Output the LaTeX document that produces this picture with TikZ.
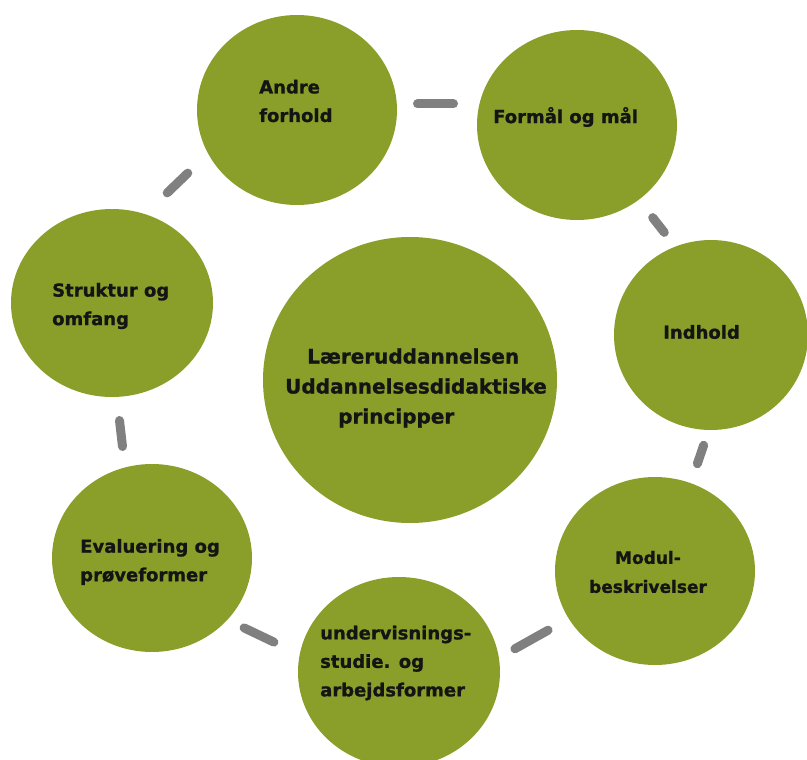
\documentclass[tikz,border=0pt]{standalone}
\usepackage{fontspec}
\setmainfont{DejaVu Sans}[BoldFeatures={FakeBold=1}]
\usetikzlibrary{shapes.geometric}
\definecolor{leaf}{RGB}{138,158,42}
\definecolor{linkgray}{RGB}{128,128,128}
\definecolor{ink}{RGB}{20,20,20}
\begin{document}
\begin{tikzpicture}[x=1pt,y=-1pt,
  disc/.style={ellipse, fill=leaf, draw=none, inner sep=0pt},
  lbl/.style={font=\bfseries\fontsize{18}{28.5}\selectfont, text=ink, align=left, anchor=west, inner sep=0pt},
  link/.style={draw=linkgray, line width=9pt, line cap=round}]
\useasboundingbox (0,0) rectangle (807,760);

% circles
\node[disc, minimum width=294pt, minimum height=286pt] (hub) at (410,380) {};
\node[disc, minimum width=200pt, minimum height=190pt] (andre) at (297,110) {};
\node[disc, minimum width=200pt, minimum height=190pt] (formal) at (577,125) {};
\node[disc, minimum width=194pt, minimum height=190pt] (indhold) at (711,335) {};
\node[disc, minimum width=200pt, minimum height=188pt] (modul) at (655,571) {};
\node[disc, minimum width=202pt, minimum height=190pt] (underv) at (399,672) {};
\node[disc, minimum width=200pt, minimum height=188pt] (eval) at (152,558) {};
\node[disc, minimum width=202pt, minimum height=188pt] (struktur) at (112,303) {};

% labels
\node[lbl, font=\bfseries\fontsize{20}{30}\selectfont] (hubtext) at (285,388)
  {\hspace*{22pt}Læreruddannelsen\\Uddannelsesdidaktiske\\\hspace*{53pt}principper};
\node[lbl] (andretext) at (259,101) {Andre\\forhold};
\node[lbl] (formaltext) at (493,117) {Formål og mål};
\node[lbl] (indholdtext) at (663,332) {Indhold};
\node[lbl, align=center, anchor=center, font=\bfseries\fontsize{17}{29}\selectfont] (modultext) at (648,572) {Modul-\\beskrivelser};
\node[lbl] (undervtext) at (320,663) {undervisnings-\\studie. og\\arbejdsformer};
\node[lbl] (evaltext) at (80,562) {Evaluering og\\prøveformer};
\node[lbl] (strukturtext) at (52,306) {Struktur og\\omfang};

% connector end points
\coordinate (c1s) at (417.5,104);   \coordinate (c1e) at (453.5,104);
\coordinate (c2s) at (652.7,217.6); \coordinate (c2e) at (664.3,232.4);
\coordinate (c3s) at (703.6,445.3); \coordinate (c3e) at (697.4,463.7);
\coordinate (c4s) at (548.1,630.2); \coordinate (c4e) at (514.9,648.8);
\coordinate (c5s) at (273.9,642.1); \coordinate (c5e) at (244.1,627.9);
\coordinate (c6s) at (122.5,446.5); \coordinate (c6e) at (119.5,420.5);
\coordinate (c7s) at (167.2,192.9); \coordinate (c7e) at (187.8,173.1);

\draw[link] (c1s) -- (c1e);
\draw[link] (c2s) -- (c2e);
\draw[link] (c3s) -- (c3e);
\draw[link] (c4s) -- (c4e);
\draw[link] (c5s) -- (c5e);
\draw[link] (c6s) -- (c6e);
\draw[link] (c7s) -- (c7e);
\end{tikzpicture}
\end{document}
